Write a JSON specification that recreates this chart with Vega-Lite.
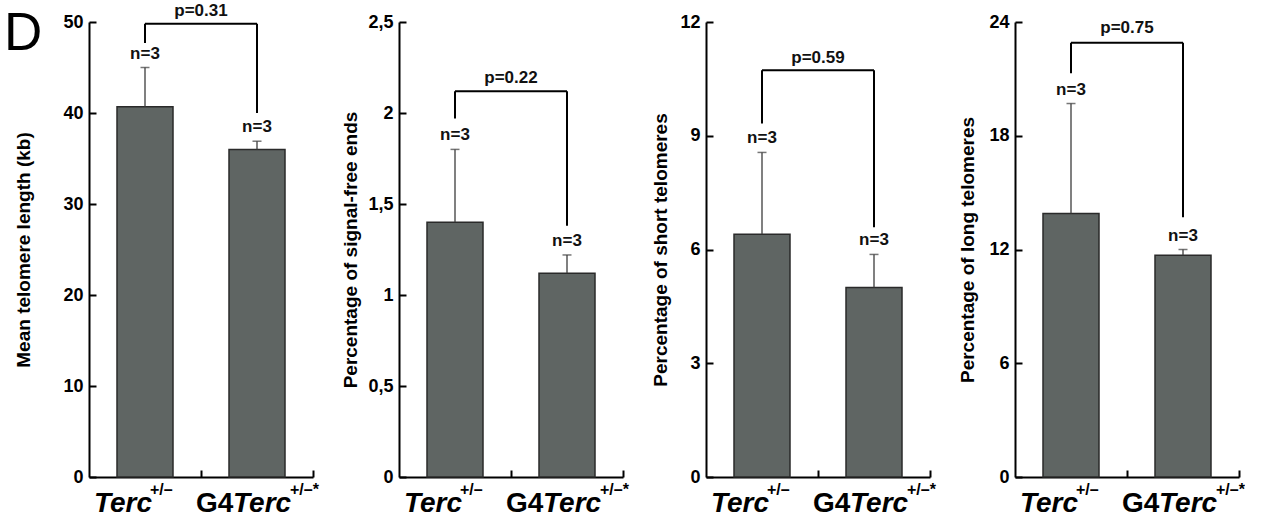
{
"$schema": "https://vega.github.io/schema/vega-lite/v6.json",
"padding": {"left": 4, "top": 2, "right": 0, "bottom": 0},
"datasets": {
"bars": [
{"panel": 1, "group": "Terc", "mean": 40.7, "err": 45.0, "nlab": "n=3"},
{"panel": 1, "group": "G4Terc", "mean": 36.0, "err": 36.9, "nlab": "n=3"},
{"panel": 2, "group": "Terc", "mean": 1.40, "err": 1.80, "nlab": "n=3"},
{"panel": 2, "group": "G4Terc", "mean": 1.12, "err": 1.22, "nlab": "n=3"},
{"panel": 3, "group": "Terc", "mean": 6.4, "err": 8.56, "nlab": "n=3"},
{"panel": 3, "group": "G4Terc", "mean": 5.0, "err": 5.87, "nlab": "n=3"},
{"panel": 4, "group": "Terc", "mean": 13.9, "err": 19.7, "nlab": "n=3"},
{"panel": 4, "group": "G4Terc", "mean": 11.7, "err": 12.0, "nlab": "n=3"}
],
"brackets": [
{"panel": 1, "g1": "Terc", "g2": "G4Terc", "top": 49.8, "lb": 47.7, "rb": 40.0, "p": "p=0.31", "py": 51.2, "letter": "D"},
{"panel": 2, "g1": "Terc", "g2": "G4Terc", "top": 2.12, "lb": 1.97, "rb": 1.38, "p": "p=0.22", "py": 2.19, "letter": ""},
{"panel": 3, "g1": "Terc", "g2": "G4Terc", "top": 10.73, "lb": 9.32, "rb": 6.59, "p": "p=0.59", "py": 11.06, "letter": ""},
{"panel": 4, "g1": "Terc", "g2": "G4Terc", "top": 22.9, "lb": 21.3, "rb": 13.7, "p": "p=0.75", "py": 23.7, "letter": ""}
]
},
"spacing": 22,
"hconcat": [
{
"width": 224, "height": 455,
"layer": [
{"data": {"name": "bars"}, "transform": [{"filter": "datum.panel == 1"}],
 "mark": {"type": "bar", "width": {"band": 0.5}, "fill": "#5f6563", "stroke": "#2a2a2a", "strokeWidth": 1.5},
 "encoding": {
  "x": {"field": "group", "type": "nominal", "title": null, "scale": {"domain": ["Terc", "G4Terc"], "paddingInner": 0, "paddingOuter": 0}, "axis": {"labels": false, "bandPosition": 1}},
  "y": {"field": "mean", "type": "quantitative", "scale": {"domain": [0, 50], "nice": false}, "axis": {"values": [0, 10, 20, 30, 40, 50], "title": "Mean telomere length (kb)", "titlePadding": 29}}}},
{"data": {"name": "bars"}, "transform": [{"filter": "datum.panel == 1"}],
 "mark": {"type": "rule", "color": "#3c3c3c", "strokeWidth": 1.3},
 "encoding": {"x": {"field": "group", "type": "nominal", "title": null}, "y": {"field": "mean", "type": "quantitative"}, "y2": {"field": "err"}}},
{"data": {"name": "bars"}, "transform": [{"filter": "datum.panel == 1"}],
 "mark": {"type": "tick", "orient": "horizontal", "size": 9, "thickness": 1.5, "color": "#3c3c3c"},
 "encoding": {"x": {"field": "group", "type": "nominal", "title": null}, "y": {"field": "err", "type": "quantitative"}}},
{"data": {"name": "bars"}, "transform": [{"filter": "datum.panel == 1"}],
 "mark": {"type": "text", "fontSize": 17, "fontWeight": "bold", "dy": -14, "baseline": "middle", "color": "#111"},
 "encoding": {"x": {"field": "group", "type": "nominal", "title": null}, "y": {"field": "err", "type": "quantitative"}, "text": {"field": "nlab"}}},
{"data": {"name": "brackets"}, "transform": [{"filter": "datum.panel == 1"}],
 "mark": {"type": "rule", "color": "#000", "strokeWidth": 2},
 "encoding": {"x": {"field": "g1", "type": "nominal", "title": null}, "y": {"field": "top", "type": "quantitative"}, "y2": {"field": "lb"}}},
{"data": {"name": "brackets"}, "transform": [{"filter": "datum.panel == 1"}],
 "mark": {"type": "rule", "color": "#000", "strokeWidth": 2},
 "encoding": {"x": {"field": "g2", "type": "nominal", "title": null}, "y": {"field": "top", "type": "quantitative"}, "y2": {"field": "rb"}}},
{"data": {"name": "brackets"}, "transform": [{"filter": "datum.panel == 1"}],
 "mark": {"type": "rule", "color": "#000", "strokeWidth": 2},
 "encoding": {"x": {"field": "g1", "type": "nominal", "title": null}, "x2": {"field": "g2"}, "y": {"field": "top", "type": "quantitative"}}},
{"data": {"name": "brackets"}, "transform": [{"filter": "datum.panel == 1"}],
 "mark": {"type": "text", "fontSize": 17, "fontWeight": "bold", "baseline": "middle", "color": "#111"},
 "encoding": {"x": {"field": "g2", "type": "nominal", "title": null, "bandPosition": 0}, "y": {"field": "py", "type": "quantitative"}, "text": {"field": "p"}}},
{"data": {"name": "brackets"}, "transform": [{"filter": "datum.panel == 1"}],
 "mark": {"type": "text", "fontSize": 53, "fontWeight": "normal", "align": "left", "baseline": "alphabetic", "dx": -141, "dy": 28, "color": "#000"},
 "encoding": {"x": {"field": "g1", "type": "nominal", "title": null}, "y": {"datum": 50, "type": "quantitative"}, "text": {"field": "letter"}}},
{"data": {"name": "brackets"}, "transform": [{"filter": "datum.panel == 1"}],
 "mark": {"type": "text", "text": "Terc", "fontSize": 28, "fontWeight": "bold", "fontStyle": "italic", "align": "right", "baseline": "alphabetic", "dx": 7, "dy": 35, "color": "#000"},
 "encoding": {"x": {"field": "g1", "type": "nominal", "title": null}, "y": {"datum": 0, "type": "quantitative"}}},
{"data": {"name": "brackets"}, "transform": [{"filter": "datum.panel == 1"}],
 "mark": {"type": "text", "text": "+/–", "fontSize": 16, "fontWeight": "bold", "align": "left", "baseline": "alphabetic", "dx": 5, "dy": 18, "color": "#000"},
 "encoding": {"x": {"field": "g1", "type": "nominal", "title": null}, "y": {"datum": 0, "type": "quantitative"}}},
{"data": {"name": "brackets"}, "transform": [{"filter": "datum.panel == 1"}],
 "mark": {"type": "text", "text": "G4", "fontSize": 28, "fontWeight": "bold", "align": "left", "baseline": "alphabetic", "dx": -61, "dy": 35, "color": "#000"},
 "encoding": {"x": {"field": "g2", "type": "nominal", "title": null}, "y": {"datum": 0, "type": "quantitative"}}},
{"data": {"name": "brackets"}, "transform": [{"filter": "datum.panel == 1"}],
 "mark": {"type": "text", "text": "Terc", "fontSize": 28, "fontWeight": "bold", "fontStyle": "italic", "align": "left", "baseline": "alphabetic", "dx": -24, "dy": 35, "color": "#000"},
 "encoding": {"x": {"field": "g2", "type": "nominal", "title": null}, "y": {"datum": 0, "type": "quantitative"}}},
{"data": {"name": "brackets"}, "transform": [{"filter": "datum.panel == 1"}],
 "mark": {"type": "text", "text": "+/–*", "fontSize": 16, "fontWeight": "bold", "align": "left", "baseline": "alphabetic", "dx": 33, "dy": 18, "color": "#000"},
 "encoding": {"x": {"field": "g2", "type": "nominal", "title": null}, "y": {"datum": 0, "type": "quantitative"}}}
]
},
{
"width": 224, "height": 455,
"layer": [
{"data": {"name": "bars"}, "transform": [{"filter": "datum.panel == 2"}],
 "mark": {"type": "bar", "width": {"band": 0.5}, "fill": "#5f6563", "stroke": "#2a2a2a", "strokeWidth": 1.5},
 "encoding": {
  "x": {"field": "group", "type": "nominal", "title": null, "scale": {"domain": ["Terc", "G4Terc"], "paddingInner": 0, "paddingOuter": 0}, "axis": {"labels": false, "bandPosition": 1}},
  "y": {"field": "mean", "type": "quantitative", "scale": {"domain": [0, 2.5], "nice": false}, "axis": {"values": [0, 0.5, 1, 1.5, 2, 2.5], "labelExpr": "replace(format(datum.value, '~g'), '.', ',')", "title": "Percentage of signal-free ends", "titlePadding": 7}}}},
{"data": {"name": "bars"}, "transform": [{"filter": "datum.panel == 2"}],
 "mark": {"type": "rule", "color": "#3c3c3c", "strokeWidth": 1.3},
 "encoding": {"x": {"field": "group", "type": "nominal", "title": null}, "y": {"field": "mean", "type": "quantitative"}, "y2": {"field": "err"}}},
{"data": {"name": "bars"}, "transform": [{"filter": "datum.panel == 2"}],
 "mark": {"type": "tick", "orient": "horizontal", "size": 9, "thickness": 1.5, "color": "#3c3c3c"},
 "encoding": {"x": {"field": "group", "type": "nominal", "title": null}, "y": {"field": "err", "type": "quantitative"}}},
{"data": {"name": "bars"}, "transform": [{"filter": "datum.panel == 2"}],
 "mark": {"type": "text", "fontSize": 17, "fontWeight": "bold", "dy": -14, "baseline": "middle", "color": "#111"},
 "encoding": {"x": {"field": "group", "type": "nominal", "title": null}, "y": {"field": "err", "type": "quantitative"}, "text": {"field": "nlab"}}},
{"data": {"name": "brackets"}, "transform": [{"filter": "datum.panel == 2"}],
 "mark": {"type": "rule", "color": "#000", "strokeWidth": 2},
 "encoding": {"x": {"field": "g1", "type": "nominal", "title": null}, "y": {"field": "top", "type": "quantitative"}, "y2": {"field": "lb"}}},
{"data": {"name": "brackets"}, "transform": [{"filter": "datum.panel == 2"}],
 "mark": {"type": "rule", "color": "#000", "strokeWidth": 2},
 "encoding": {"x": {"field": "g2", "type": "nominal", "title": null}, "y": {"field": "top", "type": "quantitative"}, "y2": {"field": "rb"}}},
{"data": {"name": "brackets"}, "transform": [{"filter": "datum.panel == 2"}],
 "mark": {"type": "rule", "color": "#000", "strokeWidth": 2},
 "encoding": {"x": {"field": "g1", "type": "nominal", "title": null}, "x2": {"field": "g2"}, "y": {"field": "top", "type": "quantitative"}}},
{"data": {"name": "brackets"}, "transform": [{"filter": "datum.panel == 2"}],
 "mark": {"type": "text", "fontSize": 17, "fontWeight": "bold", "baseline": "middle", "color": "#111"},
 "encoding": {"x": {"field": "g2", "type": "nominal", "title": null, "bandPosition": 0}, "y": {"field": "py", "type": "quantitative"}, "text": {"field": "p"}}},
{"data": {"name": "brackets"}, "transform": [{"filter": "datum.panel == 2"}],
 "mark": {"type": "text", "text": "Terc", "fontSize": 28, "fontWeight": "bold", "fontStyle": "italic", "align": "right", "baseline": "alphabetic", "dx": 7, "dy": 35, "color": "#000"},
 "encoding": {"x": {"field": "g1", "type": "nominal", "title": null}, "y": {"datum": 0, "type": "quantitative"}}},
{"data": {"name": "brackets"}, "transform": [{"filter": "datum.panel == 2"}],
 "mark": {"type": "text", "text": "+/–", "fontSize": 16, "fontWeight": "bold", "align": "left", "baseline": "alphabetic", "dx": 5, "dy": 18, "color": "#000"},
 "encoding": {"x": {"field": "g1", "type": "nominal", "title": null}, "y": {"datum": 0, "type": "quantitative"}}},
{"data": {"name": "brackets"}, "transform": [{"filter": "datum.panel == 2"}],
 "mark": {"type": "text", "text": "G4", "fontSize": 28, "fontWeight": "bold", "align": "left", "baseline": "alphabetic", "dx": -61, "dy": 35, "color": "#000"},
 "encoding": {"x": {"field": "g2", "type": "nominal", "title": null}, "y": {"datum": 0, "type": "quantitative"}}},
{"data": {"name": "brackets"}, "transform": [{"filter": "datum.panel == 2"}],
 "mark": {"type": "text", "text": "Terc", "fontSize": 28, "fontWeight": "bold", "fontStyle": "italic", "align": "left", "baseline": "alphabetic", "dx": -24, "dy": 35, "color": "#000"},
 "encoding": {"x": {"field": "g2", "type": "nominal", "title": null}, "y": {"datum": 0, "type": "quantitative"}}},
{"data": {"name": "brackets"}, "transform": [{"filter": "datum.panel == 2"}],
 "mark": {"type": "text", "text": "+/–*", "fontSize": 16, "fontWeight": "bold", "align": "left", "baseline": "alphabetic", "dx": 33, "dy": 18, "color": "#000"},
 "encoding": {"x": {"field": "g2", "type": "nominal", "title": null}, "y": {"datum": 0, "type": "quantitative"}}}
]
},
{
"width": 224, "height": 455,
"layer": [
{"data": {"name": "bars"}, "transform": [{"filter": "datum.panel == 3"}],
 "mark": {"type": "bar", "width": {"band": 0.5}, "fill": "#5f6563", "stroke": "#2a2a2a", "strokeWidth": 1.5},
 "encoding": {
  "x": {"field": "group", "type": "nominal", "title": null, "scale": {"domain": ["Terc", "G4Terc"], "paddingInner": 0, "paddingOuter": 0}, "axis": {"labels": false, "bandPosition": 1}},
  "y": {"field": "mean", "type": "quantitative", "scale": {"domain": [0, 12], "nice": false}, "axis": {"values": [0, 3, 6, 9, 12], "title": "Percentage of short telomeres", "titlePadding": 9}}}},
{"data": {"name": "bars"}, "transform": [{"filter": "datum.panel == 3"}],
 "mark": {"type": "rule", "color": "#3c3c3c", "strokeWidth": 1.3},
 "encoding": {"x": {"field": "group", "type": "nominal", "title": null}, "y": {"field": "mean", "type": "quantitative"}, "y2": {"field": "err"}}},
{"data": {"name": "bars"}, "transform": [{"filter": "datum.panel == 3"}],
 "mark": {"type": "tick", "orient": "horizontal", "size": 9, "thickness": 1.5, "color": "#3c3c3c"},
 "encoding": {"x": {"field": "group", "type": "nominal", "title": null}, "y": {"field": "err", "type": "quantitative"}}},
{"data": {"name": "bars"}, "transform": [{"filter": "datum.panel == 3"}],
 "mark": {"type": "text", "fontSize": 17, "fontWeight": "bold", "dy": -14, "baseline": "middle", "color": "#111"},
 "encoding": {"x": {"field": "group", "type": "nominal", "title": null}, "y": {"field": "err", "type": "quantitative"}, "text": {"field": "nlab"}}},
{"data": {"name": "brackets"}, "transform": [{"filter": "datum.panel == 3"}],
 "mark": {"type": "rule", "color": "#000", "strokeWidth": 2},
 "encoding": {"x": {"field": "g1", "type": "nominal", "title": null}, "y": {"field": "top", "type": "quantitative"}, "y2": {"field": "lb"}}},
{"data": {"name": "brackets"}, "transform": [{"filter": "datum.panel == 3"}],
 "mark": {"type": "rule", "color": "#000", "strokeWidth": 2},
 "encoding": {"x": {"field": "g2", "type": "nominal", "title": null}, "y": {"field": "top", "type": "quantitative"}, "y2": {"field": "rb"}}},
{"data": {"name": "brackets"}, "transform": [{"filter": "datum.panel == 3"}],
 "mark": {"type": "rule", "color": "#000", "strokeWidth": 2},
 "encoding": {"x": {"field": "g1", "type": "nominal", "title": null}, "x2": {"field": "g2"}, "y": {"field": "top", "type": "quantitative"}}},
{"data": {"name": "brackets"}, "transform": [{"filter": "datum.panel == 3"}],
 "mark": {"type": "text", "fontSize": 17, "fontWeight": "bold", "baseline": "middle", "color": "#111"},
 "encoding": {"x": {"field": "g2", "type": "nominal", "title": null, "bandPosition": 0}, "y": {"field": "py", "type": "quantitative"}, "text": {"field": "p"}}},
{"data": {"name": "brackets"}, "transform": [{"filter": "datum.panel == 3"}],
 "mark": {"type": "text", "text": "Terc", "fontSize": 28, "fontWeight": "bold", "fontStyle": "italic", "align": "right", "baseline": "alphabetic", "dx": 7, "dy": 35, "color": "#000"},
 "encoding": {"x": {"field": "g1", "type": "nominal", "title": null}, "y": {"datum": 0, "type": "quantitative"}}},
{"data": {"name": "brackets"}, "transform": [{"filter": "datum.panel == 3"}],
 "mark": {"type": "text", "text": "+/–", "fontSize": 16, "fontWeight": "bold", "align": "left", "baseline": "alphabetic", "dx": 5, "dy": 18, "color": "#000"},
 "encoding": {"x": {"field": "g1", "type": "nominal", "title": null}, "y": {"datum": 0, "type": "quantitative"}}},
{"data": {"name": "brackets"}, "transform": [{"filter": "datum.panel == 3"}],
 "mark": {"type": "text", "text": "G4", "fontSize": 28, "fontWeight": "bold", "align": "left", "baseline": "alphabetic", "dx": -61, "dy": 35, "color": "#000"},
 "encoding": {"x": {"field": "g2", "type": "nominal", "title": null}, "y": {"datum": 0, "type": "quantitative"}}},
{"data": {"name": "brackets"}, "transform": [{"filter": "datum.panel == 3"}],
 "mark": {"type": "text", "text": "Terc", "fontSize": 28, "fontWeight": "bold", "fontStyle": "italic", "align": "left", "baseline": "alphabetic", "dx": -24, "dy": 35, "color": "#000"},
 "encoding": {"x": {"field": "g2", "type": "nominal", "title": null}, "y": {"datum": 0, "type": "quantitative"}}},
{"data": {"name": "brackets"}, "transform": [{"filter": "datum.panel == 3"}],
 "mark": {"type": "text", "text": "+/–*", "fontSize": 16, "fontWeight": "bold", "align": "left", "baseline": "alphabetic", "dx": 33, "dy": 18, "color": "#000"},
 "encoding": {"x": {"field": "g2", "type": "nominal", "title": null}, "y": {"datum": 0, "type": "quantitative"}}}
]
},
{
"width": 224, "height": 455,
"layer": [
{"data": {"name": "bars"}, "transform": [{"filter": "datum.panel == 4"}],
 "mark": {"type": "bar", "width": {"band": 0.5}, "fill": "#5f6563", "stroke": "#2a2a2a", "strokeWidth": 1.5},
 "encoding": {
  "x": {"field": "group", "type": "nominal", "title": null, "scale": {"domain": ["Terc", "G4Terc"], "paddingInner": 0, "paddingOuter": 0}, "axis": {"labels": false, "bandPosition": 1}},
  "y": {"field": "mean", "type": "quantitative", "scale": {"domain": [0, 24], "nice": false}, "axis": {"values": [0, 6, 12, 18, 24], "title": "Percentage of long telomeres", "titlePadding": 11}}}},
{"data": {"name": "bars"}, "transform": [{"filter": "datum.panel == 4"}],
 "mark": {"type": "rule", "color": "#3c3c3c", "strokeWidth": 1.3},
 "encoding": {"x": {"field": "group", "type": "nominal", "title": null}, "y": {"field": "mean", "type": "quantitative"}, "y2": {"field": "err"}}},
{"data": {"name": "bars"}, "transform": [{"filter": "datum.panel == 4"}],
 "mark": {"type": "tick", "orient": "horizontal", "size": 9, "thickness": 1.5, "color": "#3c3c3c"},
 "encoding": {"x": {"field": "group", "type": "nominal", "title": null}, "y": {"field": "err", "type": "quantitative"}}},
{"data": {"name": "bars"}, "transform": [{"filter": "datum.panel == 4"}],
 "mark": {"type": "text", "fontSize": 17, "fontWeight": "bold", "dy": -14, "baseline": "middle", "color": "#111"},
 "encoding": {"x": {"field": "group", "type": "nominal", "title": null}, "y": {"field": "err", "type": "quantitative"}, "text": {"field": "nlab"}}},
{"data": {"name": "brackets"}, "transform": [{"filter": "datum.panel == 4"}],
 "mark": {"type": "rule", "color": "#000", "strokeWidth": 2},
 "encoding": {"x": {"field": "g1", "type": "nominal", "title": null}, "y": {"field": "top", "type": "quantitative"}, "y2": {"field": "lb"}}},
{"data": {"name": "brackets"}, "transform": [{"filter": "datum.panel == 4"}],
 "mark": {"type": "rule", "color": "#000", "strokeWidth": 2},
 "encoding": {"x": {"field": "g2", "type": "nominal", "title": null}, "y": {"field": "top", "type": "quantitative"}, "y2": {"field": "rb"}}},
{"data": {"name": "brackets"}, "transform": [{"filter": "datum.panel == 4"}],
 "mark": {"type": "rule", "color": "#000", "strokeWidth": 2},
 "encoding": {"x": {"field": "g1", "type": "nominal", "title": null}, "x2": {"field": "g2"}, "y": {"field": "top", "type": "quantitative"}}},
{"data": {"name": "brackets"}, "transform": [{"filter": "datum.panel == 4"}],
 "mark": {"type": "text", "fontSize": 17, "fontWeight": "bold", "baseline": "middle", "color": "#111"},
 "encoding": {"x": {"field": "g2", "type": "nominal", "title": null, "bandPosition": 0}, "y": {"field": "py", "type": "quantitative"}, "text": {"field": "p"}}},
{"data": {"name": "brackets"}, "transform": [{"filter": "datum.panel == 4"}],
 "mark": {"type": "text", "text": "Terc", "fontSize": 28, "fontWeight": "bold", "fontStyle": "italic", "align": "right", "baseline": "alphabetic", "dx": 7, "dy": 35, "color": "#000"},
 "encoding": {"x": {"field": "g1", "type": "nominal", "title": null}, "y": {"datum": 0, "type": "quantitative"}}},
{"data": {"name": "brackets"}, "transform": [{"filter": "datum.panel == 4"}],
 "mark": {"type": "text", "text": "+/–", "fontSize": 16, "fontWeight": "bold", "align": "left", "baseline": "alphabetic", "dx": 5, "dy": 18, "color": "#000"},
 "encoding": {"x": {"field": "g1", "type": "nominal", "title": null}, "y": {"datum": 0, "type": "quantitative"}}},
{"data": {"name": "brackets"}, "transform": [{"filter": "datum.panel == 4"}],
 "mark": {"type": "text", "text": "G4", "fontSize": 28, "fontWeight": "bold", "align": "left", "baseline": "alphabetic", "dx": -61, "dy": 35, "color": "#000"},
 "encoding": {"x": {"field": "g2", "type": "nominal", "title": null}, "y": {"datum": 0, "type": "quantitative"}}},
{"data": {"name": "brackets"}, "transform": [{"filter": "datum.panel == 4"}],
 "mark": {"type": "text", "text": "Terc", "fontSize": 28, "fontWeight": "bold", "fontStyle": "italic", "align": "left", "baseline": "alphabetic", "dx": -24, "dy": 35, "color": "#000"},
 "encoding": {"x": {"field": "g2", "type": "nominal", "title": null}, "y": {"datum": 0, "type": "quantitative"}}},
{"data": {"name": "brackets"}, "transform": [{"filter": "datum.panel == 4"}],
 "mark": {"type": "text", "text": "+/–*", "fontSize": 16, "fontWeight": "bold", "align": "left", "baseline": "alphabetic", "dx": 33, "dy": 18, "color": "#000"},
 "encoding": {"x": {"field": "g2", "type": "nominal", "title": null}, "y": {"datum": 0, "type": "quantitative"}}}
]
}
],
"config": {
 "font": "Liberation Sans",
 "view": {"stroke": null},
 "title": {"font": "Liberation Sans"},
 "text": {"font": "Liberation Sans"},
 "axis": {"grid": false, "domainColor": "#000", "domainWidth": 2, "tickColor": "#000", "tickWidth": 2, "tickSize": -7, "labelPadding": 13, "labelFont": "Liberation Sans", "labelFontWeight": "bold", "labelFontSize": 18, "labelColor": "#000", "titleFont": "Liberation Sans", "titleFontWeight": "bold", "titleFontSize": 19, "titleColor": "#000"}
}
}
